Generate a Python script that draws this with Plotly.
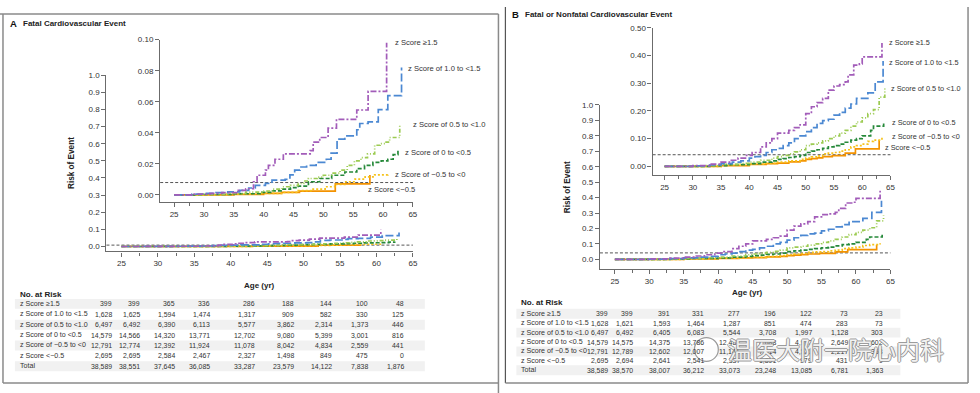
import plotly.graph_objects as go

W, H = 980, 393
def PX(x): return x / W
def PY(y): return 1 - y / H

FONT = "Liberation Sans, Arial, sans-serif"
TXT = "#333333"
AX = "#6b6b6b"

# ---------------- data ----------------
group_labels = ["z Score ≥1.5", "z Score of 1.0 to &lt;1.5", "z Score of 0.5 to &lt;1.0",
                "z Score of 0 to &lt;0.5", "z Score of −0.5 to &lt;0", "z Score &lt;−0.5"]
table_rows = group_labels + ["Total"]
colors = ["#a25cb9", "#4b88d2", "#9ccb52", "#26893a", "#f5c21b", "#f39200"]
dashes = ["6px,2px,2px,2px", "8px,3px", "4px,2px,1px,2px,1px,2px", "4px,2px", "2px,2px", "solid"]

# Panel A: fatal cardiovascular event (age, cumulative risk)
a_purple_x = [25, 28, 31, 33, 35.5, 37, 38.3, 38.9, 40.3, 40.8, 41.9, 43.3, 47.8, 48.3, 49.4, 50.8, 52.2, 55.6, 57.5, 60.6]
a_purple_y = [0, 0.0005, 0.001, 0.0015, 0.003, 0.004, 0.0085, 0.0127, 0.016, 0.019, 0.023, 0.0265, 0.0286, 0.034, 0.037, 0.043, 0.0487, 0.0547, 0.0667, 0.098]
a_blue_x = [25, 28, 30, 32, 34, 36, 37.5, 38.6, 40.3, 41.4, 43.6, 44.4, 45.2, 46.1, 47.2, 48.8, 50.5, 51.3, 52.3, 53.6, 55.6, 56.1, 57.5, 59.2, 60.8, 63.1]
a_blue_y = [0, 0.0005, 0.001, 0.0015, 0.002, 0.003, 0.0045, 0.0062, 0.0075, 0.0095, 0.010, 0.013, 0.016, 0.018, 0.019, 0.021, 0.023, 0.027, 0.036, 0.038, 0.042, 0.046, 0.047, 0.055, 0.064, 0.082]
a_lgreen_x = [25, 30, 34, 37, 39.7, 41.5, 43.1, 44.5, 45.8, 46.7, 47.5, 49, 50, 51.5, 52.8, 54, 55.2, 56.3, 57.4, 58.6, 59.5, 60.3, 61.1, 62, 62.8]
a_lgreen_y = [0, 0.0004, 0.001, 0.0018, 0.0025, 0.0038, 0.0053, 0.0062, 0.0074, 0.009, 0.0106, 0.0115, 0.0127, 0.014, 0.016, 0.019, 0.022, 0.024, 0.0265, 0.032, 0.033, 0.034, 0.037, 0.037, 0.045]
a_dgreen_x = [25, 30, 35, 39.7, 41.5, 43.1, 44.5, 45.8, 47.5, 49.4, 51.4, 53.6, 55.6, 56.9, 58.3, 59.7, 60.8, 61.7, 62.5]
a_dgreen_y = [0, 0.0003, 0.0008, 0.0017, 0.0027, 0.0038, 0.0047, 0.0057, 0.0085, 0.0106, 0.0127, 0.0148, 0.017, 0.019, 0.021, 0.022, 0.023, 0.026, 0.029]
a_yellow_x = [25, 33, 39.2, 43, 45.8, 48.1, 50.3, 51.9, 53.6, 55.3, 57, 58.6, 60.8]
a_yellow_y = [0, 0.0005, 0.001, 0.0017, 0.0028, 0.0038, 0.0053, 0.0068, 0.0085, 0.0102, 0.0117, 0.013, 0.0138]
a_orange_x = [25, 35, 40, 43, 46, 52, 57.8]
a_orange_y = [0, 0.0004, 0.001, 0.0017, 0.0025, 0.0072, 0.0129]

# Panel B: fatal or nonfatal cardiovascular event
b_purple_x = [25, 30, 33, 35, 36.5, 38, 39.5, 40.5, 42, 43, 44, 45, 47, 48, 49, 50, 51, 52, 53, 54, 55, 56, 57, 57.5, 58.5, 59.5, 60, 63.5]
b_purple_y = [0, 0.003, 0.008, 0.015, 0.022, 0.03, 0.04, 0.05, 0.07, 0.085, 0.1, 0.12, 0.13, 0.14, 0.15, 0.19, 0.215, 0.23, 0.245, 0.275, 0.29, 0.295, 0.305, 0.33, 0.365, 0.37, 0.395, 0.445]
b_blue_x = [25, 30, 33, 35, 37, 38.5, 40, 41, 42, 43, 44, 45, 46, 47, 48, 49, 50, 51, 52, 53, 54, 55, 56, 57, 58, 59, 61, 62.3, 63.7]
b_blue_y = [0, 0.002, 0.005, 0.01, 0.015, 0.02, 0.03, 0.035, 0.04, 0.05, 0.06, 0.065, 0.075, 0.085, 0.1, 0.11, 0.125, 0.14, 0.155, 0.165, 0.17, 0.185, 0.195, 0.21, 0.225, 0.245, 0.265, 0.305, 0.38]
b_lgreen_x = [25, 32, 35, 38, 40, 42, 44, 45, 46, 47, 48, 49, 50, 51, 52, 53, 54, 55, 56, 57, 58, 59, 60, 61, 62, 63, 64]
b_lgreen_y = [0, 0.003, 0.007, 0.011, 0.015, 0.022, 0.03, 0.035, 0.04, 0.045, 0.052, 0.06, 0.075, 0.08, 0.085, 0.092, 0.1, 0.11, 0.12, 0.13, 0.145, 0.16, 0.175, 0.19, 0.205, 0.25, 0.285]
b_dgreen_x = [25, 33, 36, 40, 42, 44, 45, 46, 47, 48, 49, 50, 51, 52, 53, 54, 55, 56, 57, 58, 59, 60, 61.5, 62, 63.8]
b_dgreen_y = [0, 0.003, 0.006, 0.01, 0.015, 0.02, 0.025, 0.028, 0.032, 0.035, 0.04, 0.05, 0.055, 0.06, 0.065, 0.07, 0.075, 0.08, 0.087, 0.095, 0.1, 0.11, 0.13, 0.145, 0.16]
b_yellow_x = [25, 35, 40, 43, 45, 47, 49, 50, 51, 52, 53, 54, 55, 56, 57, 58, 59, 60, 61, 62, 63.5]
b_yellow_y = [0, 0.004, 0.008, 0.011, 0.015, 0.02, 0.025, 0.03, 0.034, 0.038, 0.045, 0.048, 0.05, 0.055, 0.06, 0.07, 0.075, 0.08, 0.09, 0.095, 0.105]
b_orange_x = [25, 35, 40, 43, 45, 47, 49, 50, 51, 52, 53, 54.7, 57, 58.8, 63]
b_orange_y = [0, 0.003, 0.007, 0.01, 0.012, 0.016, 0.02, 0.025, 0.028, 0.031, 0.035, 0.039, 0.048, 0.063, 0.095]

threshold_a = 0.008
threshold_b = 0.042

# Number at risk, columns at ages 25, 30, ..., 65
risk_a = [
    ["399", "399", "365", "336", "286", "188", "144", "100", "48"],
    ["1,628", "1,625", "1,594", "1,474", "1,317", "909", "582", "330", "125"],
    ["6,497", "6,492", "6,390", "6,113", "5,577", "3,862", "2,314", "1,373", "446"],
    ["14,579", "14,566", "14,320", "13,771", "12,702", "9,080", "5,399", "3,001", "816"],
    ["12,791", "12,774", "12,392", "11,924", "11,078", "8,042", "4,834", "2,559", "441"],
    ["2,695", "2,695", "2,584", "2,467", "2,327", "1,498", "849", "475", "0"],
    ["38,589", "38,551", "37,645", "36,085", "33,287", "23,579", "14,122", "7,838", "1,876"],
]
risk_b = [
    ["399", "399", "391", "331", "277", "196", "122", "73", "23"],
    ["1,628", "1,621", "1,593", "1,464", "1,287", "851", "474", "283", "73"],
    ["6,497", "6,492", "6,405", "6,083", "5,544", "3,708", "1,997", "1,128", "303"],
    ["14,579", "14,575", "14,375", "13,786", "12,487", "8,688", "4,992", "2,649", "602"],
    ["12,791", "12,789", "12,602", "12,007", "11,141", "7,914", "4,521", "2,217", "353"],
    ["2,695", "2,694", "2,641", "2,541", "2,337", "1,891", "979", "431", "9"],
    ["38,589", "38,570", "38,007", "36,212", "33,073", "23,248", "13,085", "6,781", "1,363"],
]

panel_a = [(a_purple_x, a_purple_y), (a_blue_x, a_blue_y), (a_lgreen_x, a_lgreen_y),
           (a_dgreen_x, a_dgreen_y), (a_yellow_x, a_yellow_y), (a_orange_x, a_orange_y)]
panel_b = [(b_purple_x, b_purple_y), (b_blue_x, b_blue_y), (b_lgreen_x, b_lgreen_y),
           (b_dgreen_x, b_dgreen_y), (b_yellow_x, b_yellow_y), (b_orange_x, b_orange_y)]

fig = go.Figure()

def add_panel(series, xa, ya):
    for i in reversed(range(len(series))):
        xs, ys = series[i]
        fig.add_trace(go.Scatter(
            x=xs, y=ys, mode="lines", xaxis=xa, yaxis=ya, showlegend=False,
            hoverinfo="skip",
            line=dict(color=colors[i], width=1.7, dash=dashes[i], shape="hv")))

add_panel(panel_a, "x", "y")
add_panel(panel_a, "x2", "y2")
add_panel(panel_b, "x3", "y3")
add_panel(panel_b, "x4", "y4")

TICKSIZE = 8

# ---------------- axes ----------------
def xax(px0, px1, lo):
    return dict(domain=[PX(px0), PX(px1)], range=[lo, 65], tick0=25, dtick=5,
                showline=True, linecolor=AX, linewidth=1.4, ticks="outside", ticklen=4,
                tickcolor=AX, showgrid=False, zeroline=False,
                tickfont=dict(family=FONT, size=TICKSIZE, color=TXT),
                minor=dict(tick0=25, dtick=2.5, ticks="outside", ticklen=3, tickcolor=AX, showgrid=False),
                fixedrange=True)

def yax(py_top, py_bot, lo, hi, dtick, fmt, anchor):
    return dict(domain=[PY(py_bot), PY(py_top)], range=[lo, hi], tick0=0, dtick=dtick,
                tickformat=fmt, showline=True, linecolor=AX, linewidth=1.4,
                ticks="outside", ticklen=4, tickcolor=AX, showgrid=False, zeroline=False,
                tickfont=dict(family=FONT, size=TICKSIZE, color=TXT), anchor=anchor,
                fixedrange=True)

lay = dict(
    xaxis=dict(xax(107, 415, 22.95), anchor="y"),
    yaxis=yax(72, 250, -0.029, 1.0, 0.1, ".1f", "x"),
    xaxis2=dict(xax(161, 415, 22.67), anchor="y2"),
    yaxis2=yax(36, 200, -0.0045, 0.10, 0.02, ".2f", "x2"),
    xaxis3=dict(xax(603, 895, 22.83), anchor="y3"),
    yaxis3=yax(102, 268, -0.064, 1.0, 0.1, ".1f", "x3"),
    xaxis4=dict(xax(656, 895, 22.88), anchor="y4"),
    yaxis4=yax(24, 173, -0.032, 0.5, 0.1, ".2f", "x4"),
)

shapes = []
# threshold dashed lines
for xr, yr, th in [("x", "y", threshold_a), ("x2", "y2", threshold_a),
                   ("x3", "y3", threshold_b), ("x4", "y4", threshold_b)]:
    shapes.append(dict(type="line", xref=xr + " domain", yref=yr, x0=0, x1=1, y0=th, y1=th,
                       line=dict(color="#555555", width=1, dash="3px,2px"), layer="below"))

# frames
frame = dict(color="#8a8a8a", width=1.5)
shapes += [
    dict(type="line", xref="paper", yref="paper", x0=PX(0), x1=PX(501), y0=PY(10), y1=PY(10), line=frame),
    dict(type="line", xref="paper", yref="paper", x0=PX(3), x1=PX(3), y0=PY(10), y1=PY(383), line=frame),
    dict(type="line", xref="paper", yref="paper", x0=PX(501), x1=PX(501), y0=PY(10), y1=PY(393), line=frame),
    dict(type="line", xref="paper", yref="paper", x0=PX(3), x1=PX(501), y0=PY(383), y1=PY(383), line=frame),
    dict(type="line", xref="paper", yref="paper", x0=PX(508), x1=PX(508), y0=PY(3), y1=PY(383), line=dict(color="#555555", width=1.2)),
    dict(type="line", xref="paper", yref="paper", x0=PX(973), x1=PX(973), y0=PY(3), y1=PY(383), line=frame),
    dict(type="line", xref="paper", yref="paper", x0=PX(508), x1=PX(973), y0=PY(383), y1=PY(383), line=frame),
]

annotations = []
def txt(x, y, s, size=8, anchor="left", bold=False, angle=0, color=TXT, family=FONT):
    annotations.append(dict(xref="paper", yref="paper", x=PX(x), y=PY(y),
                            text=("<b>%s</b>" % s) if bold else s, showarrow=False,
                            xanchor=anchor, yanchor="middle", textangle=angle,
                            font=dict(family=family, size=size, color=color)))

# titles
txt(8, 20, "A", size=9.5, bold=True, color="#111")
txt(21, 20, "Fatal Cardiovascular Event", size=8, bold=True, color="#222")
txt(513, 11, "B", size=9.5, bold=True, color="#111")
txt(526, 11, "Fatal or Nonfatal Cardiovascular Event", size=8, bold=True, color="#222")
txt(72, 161, "Risk of Event", size=8.2, anchor="center", bold=True, angle=-90, color="#222")
txt(570, 185, "Risk of Event", size=8.2, anchor="center", bold=True, angle=-90, color="#222")

# curve labels
lab_a = [(395, 39), (408, 65), (413, 122), (405, 150), (395, 172), (368, 187)]
lab_b = [(892, 39), (892, 59), (894, 85), (895, 120), (895, 134), (888, 145)]
for i, (x, y) in enumerate(lab_a):
    txt(x, y, group_labels[i], size=7.6)
for i, (x, y) in enumerate(lab_b):
    txt(x, y, group_labels[i], size=7.3)

# tables
def table(label_x, cols, age_y, age_x, title_y, row_ys, data, stripe_x1):
    txt(age_x, age_y, "Age (yr)", size=8, anchor="center", bold=True, color="#222")
    txt(label_x, title_y, "No. at Risk", size=8, bold=True, color="#222")
    for r, ry in enumerate(row_ys):
        if r % 2 == 0:
            shapes.append(dict(type="rect", xref="paper", yref="paper", x0=PX(label_x - 3), x1=PX(stripe_x1),
                               y0=PY(ry + 5), y1=PY(ry - 5), fillcolor="#f1f1f1", line=dict(width=0), layer="below"))
        txt(label_x, ry, table_rows[r], size=7.1)
        for c, cx in enumerate(cols):
            txt(cx, ry, data[r][c], size=6.9, anchor="right")

table(18, [115, 143, 178, 213, 258, 298, 336, 372, 408], 284, 261, 293,
      [303, 313.5, 324, 334.5, 345, 355.5, 366], risk_a, 427)
table(522, [613, 638, 675, 710, 746, 782, 818, 854, 890], 291, 751, 302,
      [313, 322.5, 332, 341.5, 351, 360.5, 370], risk_b, 905)

# watermark
shapes.append(dict(type="circle", xref="paper", yref="paper", x0=PX(698), x1=PX(722), y0=PY(361), y1=PY(337),
                   line=dict(color="#9a9a9a", width=1.2), fillcolor="rgba(255,255,255,0.75)"))
annotations.append(dict(xref="paper", yref="paper", x=PX(840), y=PY(348), text="温医大附一院心内科",
                        showarrow=False, xanchor="center", yanchor="middle",
                        font=dict(family="Noto Sans CJK SC", size=24, color="rgba(255,255,255,0.9)",
                                  shadow="1px 0 #8f8f8f, -1px 0 #8f8f8f, 0 1px #8f8f8f, 0 -1px #8f8f8f")))

fig.update_layout(
    width=W, height=H, autosize=False,
    margin=dict(l=0, r=0, t=0, b=0),
    paper_bgcolor="white", plot_bgcolor="rgba(0,0,0,0)",
    shapes=shapes, annotations=annotations, showlegend=False,
    font=dict(family=FONT, color=TXT),
    **lay,
)

fig.write_html("out.html", config={"displayModeBar": False},
               post_script="document.body.style.margin='0px';document.body.style.overflow='hidden';")
